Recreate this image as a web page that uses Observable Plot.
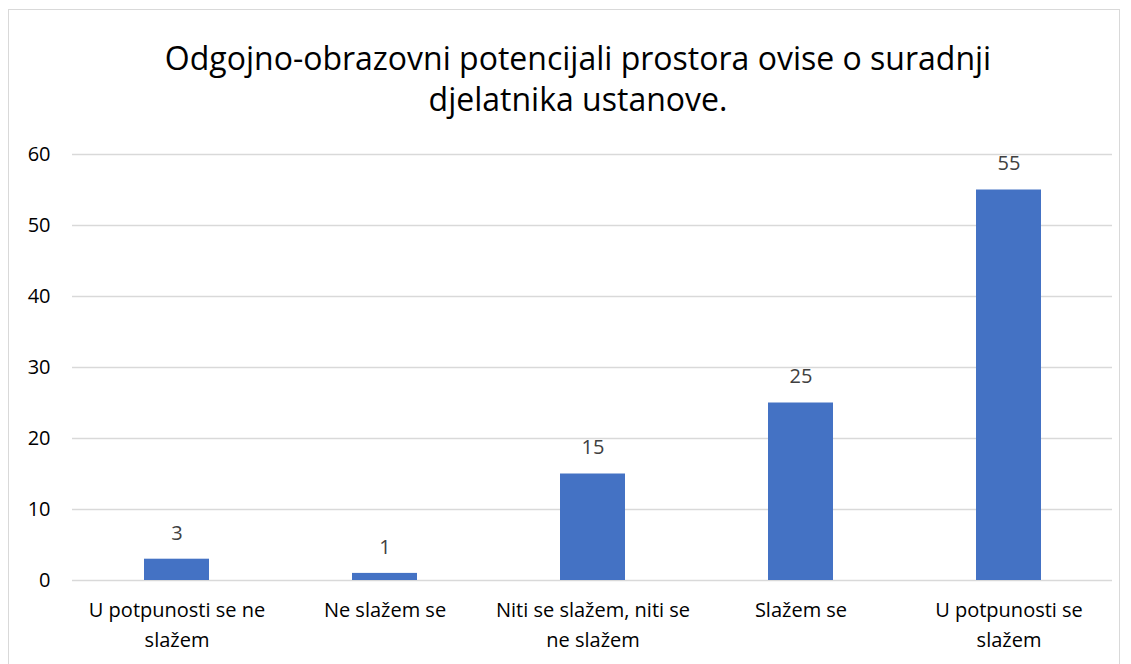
<!DOCTYPE html>
<html><head><meta charset="utf-8">
<script src="https://cdn.jsdelivr.net/npm/d3@7"></script>
<script src="https://cdn.jsdelivr.net/npm/@observablehq/plot@0.6"></script>
<style>
body{margin:0;background:#fff;font-family:"Open Sans",sans-serif;}
#frame{position:absolute;left:8px;top:9px;width:1112px;height:700px;border:1.5px solid #d9d9d9;box-sizing:border-box;}
#title{position:absolute;left:0;top:37px;width:1156px;text-align:center;font-size:32px;line-height:41px;color:#000;}
#chart{position:absolute;left:0;top:130px;}
</style></head><body>
<div id="frame"></div>
<div id="title">Odgojno-obrazovni potencijali prostora ovise o suradnji<br>djelatnika ustanove.</div>
<div id="chart"></div>
<script>
const categories = ["U potpunosti se ne\nslažem","Ne slažem se","Niti se slažem, niti se\nne slažem","Slažem se","U potpunosti se\nslažem"];
const values = [3,1,15,25,55];
const yTicks = [0,10,20,30,40,50,60];
const data = categories.map((c,i)=>({c, v: values[i]}));
const chart = Plot.plot({
  width:1131, height:534,
  marginLeft:72, marginRight:19, marginTop:24, marginBottom:84,
  style:{fontFamily:"'Open Sans', sans-serif", fontSize:"20px", color:"#000", background:"transparent"},
  x:{domain:categories, paddingInner:0.6875, paddingOuter:0.34375, align:0.5},
  y:{domain:[0,60]},
  marks:[
    Plot.gridY(yTicks,{stroke:"#d9d9d9", strokeOpacity:1, strokeWidth:1.5}),
    Plot.barY(data,{x:"c", y:"v", fill:"#4472c4"}),
    Plot.text(data,{x:"c", y:"v", text:d=>String(d.v), dy:-26, fill:"#404040", fontSize:20}),
    Plot.axisY(yTicks,{tickSize:0, tickPadding:22, label:null, fontSize:20, fill:"#000"}),
    Plot.axisX({tickSize:0, tickPadding:15, label:null, fontSize:20, lineHeight:1.5, fill:"#000", textAnchor:"middle"})
  ]
});
document.getElementById("chart").appendChild(chart);
</script>
</body></html>
